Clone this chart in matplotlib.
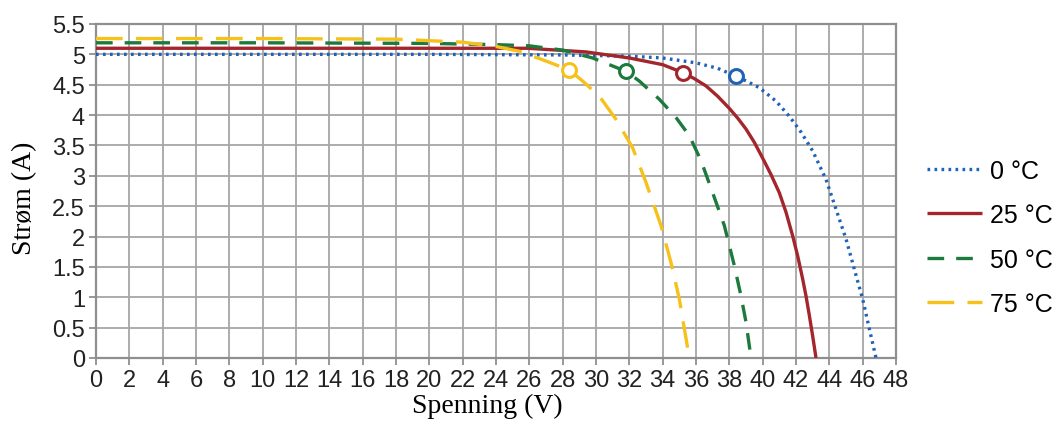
import matplotlib
matplotlib.use("Agg")
import matplotlib.pyplot as plt

# I-V curves of a PV module at four cell temperatures
v_0c = [0, 10, 20, 28, 32, 34, 36, 37.3, 38.4, 39.1, 39.8, 40.8, 41.6, 42.3, 43.0,
        43.8, 44.4, 45.0, 45.5, 46.0, 46.4, 46.8]
i_0c = [5.0, 5.0, 5.0, 4.99, 4.97, 4.94, 4.86, 4.77, 4.64, 4.55, 4.45, 4.23, 3.98, 3.72, 3.41,
        2.94, 2.45, 1.96, 1.46, 0.97, 0.48, 0.0]

v_25c = [0, 10, 20, 24, 25.9, 29.4, 32.0, 34.0, 35.2, 35.9, 36.6, 37.3, 38.0, 38.5, 39.0,
         39.5, 40.0, 40.5, 41.0, 41.4, 41.8, 42.1, 42.4, 42.6, 42.8, 43.0, 43.2]
i_25c = [5.1, 5.1, 5.1, 5.1, 5.1, 5.04, 4.94, 4.83, 4.70, 4.60, 4.48, 4.31, 4.11, 3.95, 3.77,
         3.55, 3.29, 3.02, 2.72, 2.40, 2.01, 1.68, 1.30, 1.02, 0.70, 0.36, 0.0]

v_50c = [0, 10, 20, 24, 26, 28, 29.8, 30.8, 31.8, 32.6, 33.8, 34.8, 35.6, 36.3, 37.0,
         37.7, 38.3, 38.7, 39.0, 39.3]
i_50c = [5.19, 5.19, 5.18, 5.16, 5.14, 5.07, 4.94, 4.83, 4.72, 4.56, 4.26, 3.96, 3.66, 3.25, 2.72,
         2.18, 1.52, 1.02, 0.59, 0.0]

v_75c = [0, 10, 18, 22, 24, 25.4, 27.0, 28.4, 29.2, 30.2, 31.2, 32.2, 33.0, 33.9, 34.5,
         35.0, 35.6]
i_75c = [5.26, 5.26, 5.25, 5.2, 5.13, 5.05, 4.89, 4.74, 4.56, 4.31, 3.93, 3.46, 2.89, 2.18, 1.57,
         0.97, 0.0]

# maximum power points
mpp_v = [38.4, 35.2, 31.8, 28.4]
mpp_i = [4.64, 4.70, 4.72, 4.74]

labels = ["0 °C", "25 °C", "50 °C", "75 °C"]
colors = ["#1f62b8", "#a3262c", "#1c7a3c", "#f7c11b"]
styles = [(0, (0.8, 1.3)), "-", (0, (5.0, 3.6)), (0, (8.0, 4.0))]

x_ticks = list(range(0, 49, 2))
y_ticks = [0, 0.5, 1, 1.5, 2, 2.5, 3, 3.5, 4, 4.5, 5, 5.5]
y_ticklabels = ["0", "0.5", "1", "1.5", "2", "2.5", "3", "3.5", "4", "4.5", "5", "5.5"]

fig = plt.figure(figsize=(10.56, 4.27), dpi=100)
ax = fig.add_axes([0.0909, 0.1593, 0.7576, 0.7822])

series = [(v_0c, i_0c), (v_25c, i_25c), (v_50c, i_50c), (v_75c, i_75c)]
handles = []
for (v, i), lab, col, ls in zip(series, labels, colors, styles):
    h, = ax.plot(v, i, color=col, lw=2.4, linestyle=ls, label=lab, zorder=3,
                 dash_capstyle="butt", solid_capstyle="butt", solid_joinstyle="round")
    handles.append(h)

for mv, mi, col in zip(mpp_v, mpp_i, colors):
    ax.plot([mv], [mi], marker="o", ms=10, mfc="white", mec=col, mew=2.2,
            linestyle="none", zorder=4)

ax.set_xlim(0, 48)
ax.set_ylim(0, 5.5)
ax.set_xticks(x_ticks)
ax.set_yticks(y_ticks)
ax.set_yticklabels(y_ticklabels)
ax.grid(True, color="#a6a6a6", lw=1.3, zorder=0)
ax.set_axisbelow(True)
for s in ax.spines.values():
    s.set_color("#8f8f8f")
    s.set_linewidth(1.6)
ax.tick_params(axis="both", direction="out", length=5, width=1.3, color="#8f8f8f",
               labelsize=17, labelcolor="#222222", pad=3)
for t in ax.get_xticklabels() + ax.get_yticklabels():
    t.set_family("Liberation Sans")

ax.set_xlabel("Spenning (V)", family="Liberation Serif", fontsize=20, labelpad=4)
ax.xaxis.set_label_coords(0.489, -0.105)
ax.set_ylabel("Strøm (A)", family="Liberation Serif", fontsize=20)
ax.yaxis.set_label_coords(-0.073, 0.48)

fig.legend(handles=handles, labels=labels, loc="center left",
           bbox_to_anchor=(0.878, 0.4415), frameon=False, borderpad=0,
           borderaxespad=0, handlelength=2.2, handletextpad=0.32,
           labelspacing=0.82, prop={"family": "Liberation Sans", "size": 18})

fig.savefig("out.png", dpi=100, facecolor="white")
